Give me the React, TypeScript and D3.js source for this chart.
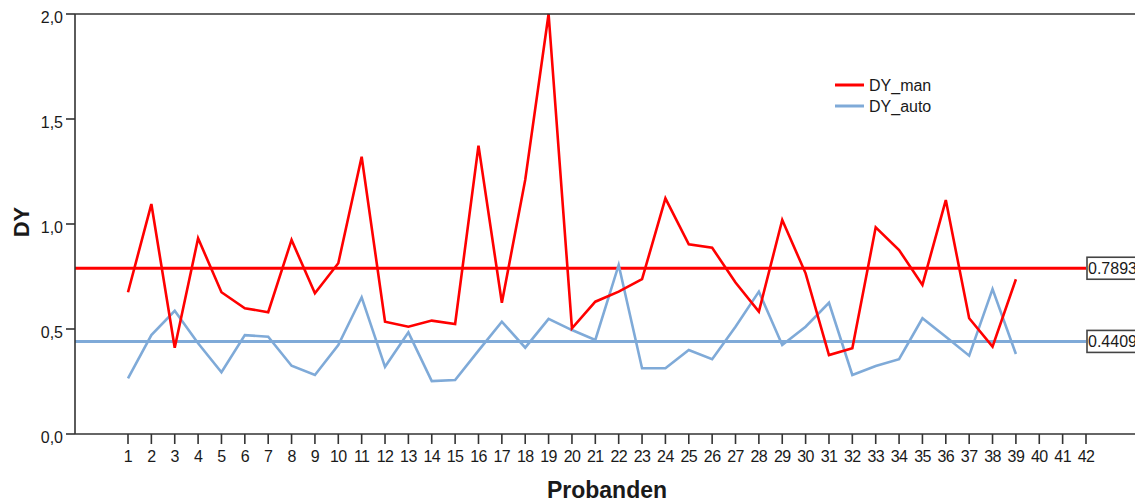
import React from "react";
import * as d3 from "d3";

const probanden: number[] = Array.from({ length: 42 }, (_, i) => i + 1);
const dyMan: number[] = [
  0.675, 1.095, 0.411, 0.932, 0.675, 0.599, 0.58, 0.924, 0.67, 0.813, 1.32,
  0.535, 0.511, 0.54, 0.524, 1.373, 0.625, 1.21, 2.0, 0.503, 0.63, 0.678,
  0.737, 1.122, 0.903, 0.887, 0.721, 0.583, 1.019, 0.765, 0.376, 0.408, 0.984,
  0.876, 0.71, 1.114, 0.551, 0.416, 0.737,
];
const dyAuto: number[] = [
  0.265, 0.471, 0.587, 0.432, 0.294, 0.471, 0.463, 0.325, 0.281, 0.424, 0.651,
  0.32, 0.484, 0.252, 0.257, 0.397, 0.535, 0.411, 0.548, 0.495, 0.448, 0.805,
  0.313, 0.313, 0.4, 0.356, 0.511, 0.678, 0.424, 0.511, 0.625, 0.281, 0.324,
  0.356, 0.551, 0.463, 0.373, 0.69, 0.381,
];
const meanMan = 0.7893;
const meanAuto = 0.4409;
const yTicks: number[] = [0, 0.5, 1.0, 1.5, 2.0];
const seriesNames: string[] = ["DY_man", "DY_auto"];

const W = 1135;
const H = 503;
const RED = "#ff0000";
const BLUE = "#7faad8";
const AXIS = "#333333";
const TEXT = "#1a1a1a";
const FONT = "Arial, 'Liberation Sans', sans-serif";

export default function App() {
  const x = d3.scaleLinear().domain([1, 42]).range([128, 1086]);
  const y = d3.scaleLinear().domain([0, 2]).range([434, 14]);
  const left = 75;
  const right = W;
  const line = d3
    .line<number>()
    .x((_, i) => x(probanden[i]))
    .y((d) => y(d));
  const fmt = (v: number) => v.toFixed(1).replace(".", ",");

  const refs = [
    { v: meanMan, c: RED },
    { v: meanAuto, c: BLUE },
  ];

  return (
    <svg
      width={W}
      height={H}
      style={{ position: "absolute", left: 0, top: 0, background: "#fff" }}
      fontFamily={FONT}
    >
      <rect x={0} y={0} width={W} height={H} fill="#ffffff" />
      {refs.map((r, i) => (
        <line
          key={"ref" + i}
          x1={left}
          x2={1086}
          y1={y(r.v)}
          y2={y(r.v)}
          stroke={r.c}
          strokeWidth={3}
        />
      ))}
      <path d={line(dyAuto) || ""} fill="none" stroke={BLUE} strokeWidth={2.6} />
      <path d={line(dyMan) || ""} fill="none" stroke={RED} strokeWidth={2.6} />

      <line x1={left} x2={right} y1={y(2)} y2={y(2)} stroke={AXIS} strokeWidth={1.6} />
      <line x1={left} x2={right} y1={y(0)} y2={y(0)} stroke={AXIS} strokeWidth={1.6} />
      <line x1={left} x2={left} y1={y(2)} y2={y(0)} stroke={AXIS} strokeWidth={1.6} />

      {yTicks.map((t) => (
        <g key={"yt" + t}>
          <line x1={66} x2={left} y1={y(t)} y2={y(t)} stroke={AXIS} strokeWidth={1.6} />
          <text x={63} y={y(t) + 8.5} textAnchor="end" fontSize={16} fill={TEXT}>
            {fmt(t)}
          </text>
        </g>
      ))}

      {probanden.map((p) => (
        <g key={"xt" + p}>
          <line x1={x(p)} x2={x(p)} y1={y(0)} y2={y(0) + 10} stroke={AXIS} strokeWidth={1.6} />
          <text x={x(p)} y={462} textAnchor="middle" fontSize={16} letterSpacing={-0.6} fill={TEXT}>
            {p}
          </text>
        </g>
      ))}

      <text x={607} y={498} textAnchor="middle" fontSize={23} fontWeight="bold" fill={TEXT}>
        Probanden
      </text>
      <text
        transform={`translate(29,222) rotate(-90)`}
        textAnchor="middle"
        fontSize={22}
        fontWeight="bold"
        fill={TEXT}
      >
        DY
      </text>

      {refs.map((r, i) => (
        <g key={"lab" + i}>
          <rect
            x={1087}
            y={y(r.v) - 11}
            width={60}
            height={22}
            fill="#ffffff"
            stroke="#444"
            strokeWidth={1.6}
          />
          <text x={1088} y={y(r.v) + 6} fontSize={16} fill={TEXT}>
            {r.v.toFixed(4)}
          </text>
        </g>
      ))}

      {seriesNames.map((n, i) => (
        <g key={"leg" + i}>
          <line
            x1={835}
            x2={864}
            y1={85 + i * 21}
            y2={85 + i * 21}
            stroke={i === 0 ? RED : BLUE}
            strokeWidth={3}
          />
          <text x={869} y={85 + i * 21 + 6} fontSize={16} fill={TEXT}>
            {n}
          </text>
        </g>
      ))}
    </svg>
  );
}
